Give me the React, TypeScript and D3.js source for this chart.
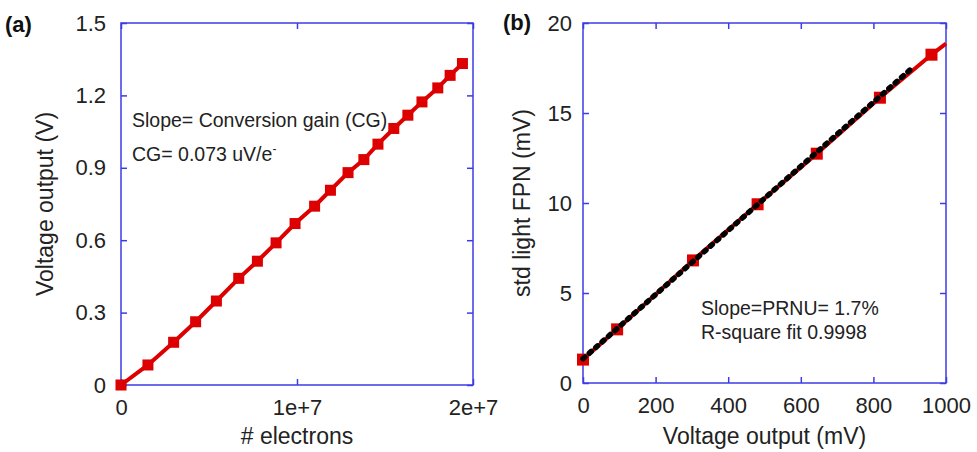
import React, { useEffect, useRef } from "react";
import * as d3 from "d3";

// panel (a): conversion gain
const electrons = [0, 1.53e6, 2.99e6, 4.24e6, 5.42e6, 6.69e6, 7.75e6, 8.81e6, 9.89e6, 11.0e6,
  11.9e6, 12.9e6, 13.8e6, 14.6e6, 15.5e6, 16.3e6, 17.1e6, 18.0e6, 18.7e6, 19.4e6];
const voltageOut = [0, 0.083, 0.177, 0.262, 0.348, 0.442, 0.513, 0.589, 0.669, 0.741,
  0.807, 0.880, 0.934, 0.998, 1.063, 1.118, 1.173, 1.231, 1.283, 1.332];
const aXTicks = [0, 1e7, 2e7];
const aXTickLabels = ["0", "1e+7", "2e+7"];
const aYTicks = [0, 0.3, 0.6, 0.9, 1.2, 1.5];
const aYTickLabels = ["0", "0.3", "0.6", "0.9", "1.2", "1.5"];

// panel (b): PRNU
const voltageMv = [0, 94, 303, 481, 644, 818, 960];
const fpnMv = [1.3, 2.98, 6.81, 9.93, 12.74, 15.85, 18.24];
// red fit continues past the last measured point to the frame edge
const fitX = [960, 1000];
const fitY = [18.24, 18.85];
const dotX = [0, 909];
const dotY = [1.35, 17.54];
const bXTicks = [0, 200, 400, 600, 800, 1000];
const bYTicks = [0, 5, 10, 15, 20];

const BLUE = "#3c3ce6";
const RED = "#dd0000";
const FONT = "'Liberation Sans', Arial, sans-serif";

function frame(g, x, y, xTicks, yTicks, xFmt, yFmt, yPad) {
  const [x0, x1] = x.range();
  const [y0, y1] = y.range();
  const tick = 6;

  const bottom = g.append("g").attr("transform", `translate(0,${y0})`)
    .call(d3.axisBottom(x).tickValues(xTicks).tickSizeInner(-tick).tickSizeOuter(0).tickPadding(14).tickFormat(xFmt));
  const left = g.append("g").attr("transform", `translate(${x0},0)`)
    .call(d3.axisLeft(y).tickValues(yTicks).tickSizeInner(-tick).tickSizeOuter(0).tickPadding(yPad).tickFormat(yFmt));
  const top = g.append("g").attr("transform", `translate(0,${y1})`)
    .call(d3.axisTop(x).tickValues(xTicks).tickSizeInner(-tick).tickSizeOuter(0).tickFormat(() => ""));
  const right = g.append("g").attr("transform", `translate(${x1},0)`)
    .call(d3.axisRight(y).tickValues(yTicks).tickSizeInner(-tick).tickSizeOuter(0).tickFormat(() => ""));

  [bottom, left, top, right].forEach(a => {
    a.select(".domain").remove();
    a.selectAll("line").attr("stroke", BLUE).attr("stroke-width", 1.5);
    a.selectAll("text").attr("fill", "#222").style("font-family", FONT).style("font-size", "22px");
  });

  g.append("rect")
    .attr("x", x0).attr("y", y1)
    .attr("width", x1 - x0).attr("height", y0 - y1)
    .attr("fill", "none").attr("stroke", BLUE).attr("stroke-width", 1.5);
}

function axisTitles(svg, x, y, xTitle, yTitle, yTitleX) {
  const [x0, x1] = x.range();
  const [y0, y1] = y.range();
  svg.append("text")
    .attr("x", (x0 + x1) / 2).attr("y", 444)
    .attr("text-anchor", "middle")
    .style("font-family", FONT).style("font-size", "23px").attr("fill", "#222")
    .text(xTitle);
  svg.append("text")
    .attr("transform", `translate(${yTitleX},${(y0 + y1) / 2}) rotate(-90)`)
    .attr("text-anchor", "middle")
    .style("font-family", FONT).style("font-size", "23px").attr("fill", "#222")
    .text(yTitle);
}

export default function App() {
  const ref = useRef(null);

  useEffect(() => {
    const svg = d3.select(ref.current);
    svg.selectAll("*").remove();

    // ---------- panel (a)
    const xa = d3.scaleLinear().domain([0, 2e7]).range([121, 473]);
    const ya = d3.scaleLinear().domain([0, 1.5]).range([385, 23]);
    const ga = svg.append("g");
    frame(ga, xa, ya, aXTicks, aYTicks, (d, i) => aXTickLabels[i], (d, i) => aYTickLabels[i], 15);

    const aData = electrons.map((e, i) => ({ x: e, y: voltageOut[i] }));
    ga.append("path")
      .datum(aData)
      .attr("fill", "none").attr("stroke", RED).attr("stroke-width", 4)
      .attr("d", d3.line().x(d => xa(d.x)).y(d => ya(d.y)));
    ga.selectAll(".sqa")
      .data(aData)
      .enter().append("rect")
      .attr("x", d => xa(d.x) - 5.5).attr("y", d => ya(d.y) - 5.5)
      .attr("width", 11).attr("height", 11)
      .attr("fill", RED);

    const noteA = svg.append("text")
      .style("font-family", FONT).style("font-size", "19.5px").attr("fill", "#222");
    noteA.append("tspan").attr("x", 132).attr("y", 127).text("Slope= Conversion gain (CG)");
    const cg = svg.append("text")
      .attr("x", 132).attr("y", 161)
      .style("font-family", FONT).style("font-size", "19.5px").attr("fill", "#222");
    cg.append("tspan").text("CG= 0.073 uV/e");
    cg.append("tspan").attr("dy", -8).style("font-size", "12px").text("-");

    axisTitles(svg, xa, ya, "# electrons", "Voltage output (V)", 53);

    svg.append("text")
      .attr("x", 5).attr("y", 32)
      .style("font-family", FONT).style("font-size", "22px").style("font-weight", "bold").attr("fill", "#111")
      .text("(a)");

    // ---------- panel (b)
    const xb = d3.scaleLinear().domain([0, 1000]).range([583, 946]);
    const yb = d3.scaleLinear().domain([0, 20]).range([383, 23]);
    const gb = svg.append("g");
    frame(gb, xb, yb, bXTicks, bYTicks, d3.format("d"), d3.format("d"), 11);

    const lineB = d3.line().x(d => xb(d.x)).y(d => yb(d.y));
    const fitData = fitX.map((v, i) => ({ x: v, y: fitY[i] }));
    gb.append("path")
      .datum(fitData)
      .attr("fill", "none").attr("stroke", RED).attr("stroke-width", 4)
      .attr("d", lineB);

    const bData = voltageMv.map((v, i) => ({ x: v, y: fpnMv[i] }));
    gb.append("path")
      .datum(bData)
      .attr("fill", "none").attr("stroke", RED).attr("stroke-width", 4)
      .attr("d", lineB);
    gb.selectAll(".sqb")
      .data(bData)
      .enter().append("rect")
      .attr("x", d => xb(d.x) - 6).attr("y", d => yb(d.y) - 6)
      .attr("width", 12).attr("height", 12)
      .attr("fill", RED);

    const dotData = dotX.map((v, i) => ({ x: v, y: dotY[i] }));
    gb.append("path")
      .datum(dotData)
      .attr("fill", "none").attr("stroke", "#000").attr("stroke-width", 5.5)
      .attr("stroke-linecap", "round").attr("stroke-dasharray", "2.5 6")
      .attr("d", lineB);

    const noteB = svg.append("text")
      .style("font-family", FONT).style("font-size", "19.5px").attr("fill", "#222");
    noteB.append("tspan").attr("x", 701).attr("y", 315).text("Slope=PRNU= 1.7%");
    noteB.append("tspan").attr("x", 701).attr("y", 339).text("R-square fit 0.9998");

    axisTitles(svg, xb, yb, "Voltage output (mV)", "std light FPN (mV)", 530);

    svg.append("text")
      .attr("x", 503).attr("y", 30)
      .style("font-family", FONT).style("font-size", "22px").style("font-weight", "bold").attr("fill", "#111")
      .text("(b)");
  }, []);

  return (
    <svg
      ref={ref}
      width={977}
      height={452}
      style={{ position: "absolute", left: 0, top: 0, background: "#fff" }}
    />
  );
}
